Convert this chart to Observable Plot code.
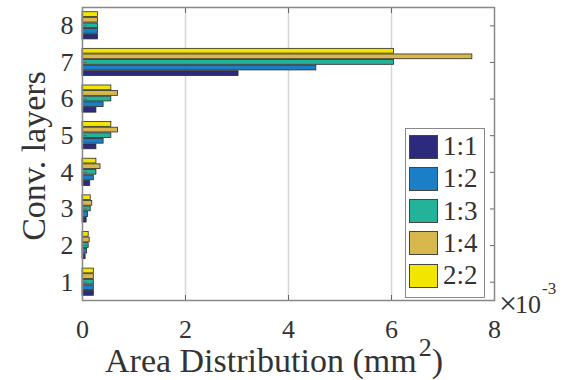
<!DOCTYPE html>
<html>
<head>
<meta charset="utf-8">
<script src="https://cdn.jsdelivr.net/npm/d3@7"></script>
<script src="https://cdn.jsdelivr.net/npm/@observablehq/plot@0.6"></script>
<style>
  html, body { margin: 0; padding: 0; background: #fff; }
  #wrap { position: relative; width: 569px; height: 380px; font-family: "Liberation Serif", "Times New Roman", serif; color: #333; }
  #legend { position: absolute; left: 405px; top: 128px; width: 78px; height: 168px; border: 1px solid #888; background: #fff; box-sizing: content-box; }
  .item { position: absolute; left: 3px; height: 25px; display: flex; align-items: center; }
  .sw { width: 29px; height: 24px; border: 1px solid #444; box-sizing: border-box; }
  .lab { margin-left: 5px; font-size: 27px; line-height: 25px; color: #333; }
</style>
</head>
<body>
<div id="wrap"></div>
<script>
// ---- data ----
const layers = [1, 2, 3, 4, 5, 6, 7, 8];
const series = ["1:1", "1:2", "1:3", "1:4", "2:2"];
const colors = ["#2c2a7c", "#1a7fc6", "#22b399", "#d8b74c", "#f2e600"];
// values in units of 1e-3 mm^2, one per layer (1..8)
const v11 = [0.22, 0.06, 0.08, 0.15, 0.27, 0.27, 3.03, 0.30];
const v12 = [0.22, 0.09, 0.11, 0.22, 0.41, 0.41, 4.54, 0.30];
const v13 = [0.22, 0.12, 0.16, 0.27, 0.56, 0.56, 6.05, 0.30];
const v14 = [0.22, 0.14, 0.19, 0.35, 0.69, 0.69, 7.57, 0.30];
const v22 = [0.22, 0.12, 0.16, 0.27, 0.56, 0.56, 6.05, 0.30];
const xTicks = [0, 2, 4, 6, 8];

const allValues = [v11, v12, v13, v14, v22];
const pitch = 0.153, barH = 0.13;
const data = [];
series.forEach((s, i) => {
  allValues[i].forEach((v, j) => {
    const c = layers[j] - 2 * pitch + i * pitch;
    data.push({layer: layers[j], series: s, value: v, y1: c - barH / 2, y2: c + barH / 2});
  });
});

const font = '"Liberation Serif", "Times New Roman", serif';
const plot = Plot.plot({
  width: 569,
  height: 380,
  marginLeft: 82,
  marginRight: 75,
  marginTop: 7,
  marginBottom: 80,
  style: {fontFamily: font, color: "#333", background: "transparent"},
  x: {domain: [0, 8], label: null},
  y: {domain: [0.5, 8.5], label: null},
  color: {domain: series, range: colors},
  marks: [
    Plot.gridX({ticks: [2, 4, 6], stroke: "#d6d6d6", strokeOpacity: 1, strokeWidth: 1.5}),
    Plot.rect(data, {x1: () => 0, x2: "value", y1: "y1", y2: "y2", fill: "series", stroke: "#2a2a2a", strokeWidth: 0.8}),
    Plot.axisX({anchor: "bottom", ticks: xTicks, tickSize: -5, tickPadding: 24, fontSize: 26, stroke: "#666", label: null}),
    Plot.axisX({anchor: "top", ticks: xTicks, tickSize: -5, tickFormat: () => "", stroke: "#666", label: null}),
    Plot.axisY({anchor: "left", ticks: layers, tickSize: -5, tickPadding: 14, fontSize: 26, stroke: "#666", label: null}),
    Plot.axisY({anchor: "right", ticks: layers, tickSize: -5, tickFormat: () => "", stroke: "#666", label: null}),
    Plot.frame({stroke: "#888", strokeWidth: 1.5})
  ]
});

const wrap = document.getElementById("wrap");
wrap.appendChild(plot);

// axis titles and exponent as real SVG text
const svg = d3.select(plot);
svg.append("text")
  .attr("transform", "translate(45,156) rotate(-90)")
  .attr("text-anchor", "middle")
  .attr("font-family", font).attr("font-size", 34).attr("fill", "#333")
  .text("Conv. layers");

const xl = svg.append("text")
  .attr("x", 105).attr("y", 372)
  .attr("text-anchor", "start")
  .attr("font-family", font).attr("font-size", 34).attr("fill", "#333");
xl.append("tspan").text("Area Distribution (mm");
xl.append("tspan").attr("font-size", 26).attr("dy", -16).attr("dx", 2).text("2");
xl.append("tspan").attr("dy", 16).text(")");

svg.append("text").attr("x", 499).attr("y", 314).attr("text-anchor", "start")
  .attr("font-family", font).attr("font-size", 32).attr("fill", "#333").text("\u00d7");
svg.append("text").attr("x", 515).attr("y", 313).attr("text-anchor", "start")
  .attr("font-family", font).attr("font-size", 26).attr("fill", "#333").text("10");
svg.append("text").attr("x", 542).attr("y", 294).attr("text-anchor", "start")
  .attr("font-family", font).attr("font-size", 17).attr("fill", "#333").text("-3");

// legend
const legend = document.createElement("div");
legend.id = "legend";
series.forEach((s, i) => {
  const item = document.createElement("div");
  item.className = "item";
  item.style.top = (5 + i * 32.3) + "px";
  const sw = document.createElement("div");
  sw.className = "sw";
  sw.style.background = colors[i];
  const lab = document.createElement("span");
  lab.className = "lab";
  lab.textContent = s;
  item.appendChild(sw);
  item.appendChild(lab);
  legend.appendChild(item);
});
wrap.appendChild(legend);
</script>
</body>
</html>
